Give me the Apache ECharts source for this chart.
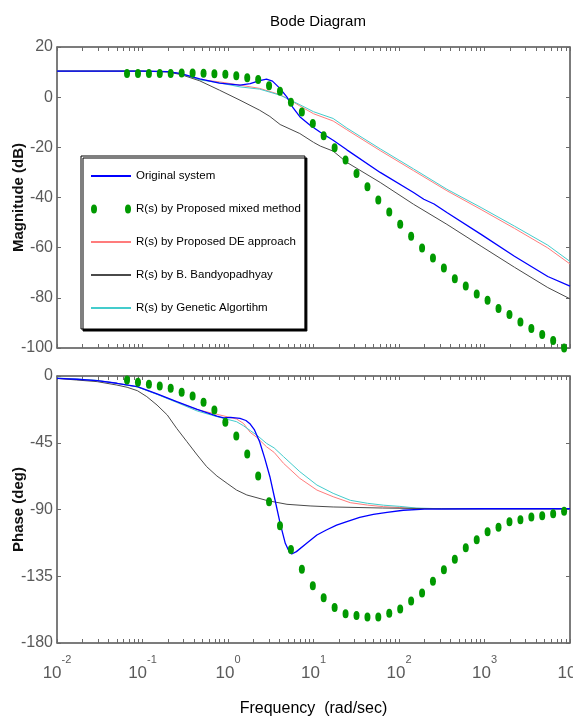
<!DOCTYPE html>
<html>
<head>
<meta charset="utf-8">
<script src="https://cdn.jsdelivr.net/npm/echarts@6/dist/echarts.min.js"></script>
<style>
  html, body { margin: 0; padding: 0; background: #fff; }
  #bode { width: 573px; height: 720px; }
</style>
</head>
<body>
<div id="bode"></div>
<script>
// all frequencies are stored as log10(rad/sec)

// R(s) by proposed mixed method (dots)
var mixedW = [-1.181, -1.053, -0.925, -0.798, -0.670, -0.542, -0.414, -0.286, -0.159, -0.031,
    0.097, 0.225, 0.353, 0.480, 0.608, 0.736, 0.864, 0.992, 1.119, 1.247,
    1.375, 1.503, 1.631, 1.758, 1.886, 2.014, 2.142, 2.270, 2.397, 2.525,
    2.653, 2.781, 2.909, 3.036, 3.164, 3.292, 3.420, 3.548, 3.675, 3.803, 3.931];
var mixedMag = [9.4, 9.4, 9.4, 9.4, 9.4, 9.6, 9.6, 9.5, 9.3, 9.1,
    8.5, 7.7, 7.0, 4.6, 2.4, -2.0, -5.9, -10.5, -15.4, -20.2,
    -25.0, -30.4, -35.7, -41.0, -45.8, -50.7, -55.4, -60.1, -64.1, -68.1,
    -72.4, -75.3, -78.5, -81.0, -84.3, -86.6, -89.6, -92.2, -94.6, -97.0, -100];
var mixedPhase = [-2.7, -4.2, -5.6, -6.7, -8.3, -11.0, -13.5, -17.7, -22.9, -31.2,
    -40.4, -52.6, -67.4, -84.7, -100.9, -116.9, -130.3, -141.4, -149.5, -156.0,
    -160.2, -161.4, -162.5, -162.5, -160.0, -157.1, -151.7, -146.3, -138.4, -130.6,
    -123.6, -115.8, -110.4, -105.0, -102.0, -98.2, -96.9, -95.1, -94.2, -92.8, -91.2];

// Original system
var origMagW = [-2, -1, -0.7, -0.55, -0.33, -0.1, 0.14, 0.26, 0.36, 0.45, 0.52, 0.61, 0.69, 0.76,
    0.84, 0.96, 1.08, 1.23, 1.39, 1.78, 2.17, 2.29, 2.41, 2.56, 2.96, 3.35, 3.74, 4];
var origMag = [10.4, 10.4, 10.2, 9.4, 7.3, 5.6, 4.8, 5.4, 6.5, 7.2, 6.4, 3.4, 0.0, -4.2,
    -7.8, -11.2, -14.0, -17.2, -21.0, -30.0, -38.0, -40.7, -42.6, -46.0, -54.7, -63.4, -71.5, -75.3];
var origPhW = [-2, -1.77, -1.53, -1.3, -1.06, -0.83, -0.6, -0.36, -0.13, -0.05, 0.03, 0.14, 0.21, 0.26,
    0.31, 0.37, 0.43, 0.49, 0.55, 0.61, 0.67, 0.72, 0.745, 0.8, 0.92, 1.04, 1.15, 1.27,
    1.39, 1.54, 1.7, 1.86, 2.05, 2.3, 3, 4];
var origPhase = [-1.6, -2.2, -3.1, -4.9, -7.2, -12.1, -17.3, -22.5, -27.0, -28.3, -27.9, -28.5, -30.0, -32.4,
    -36.4, -44.3, -55.5, -67.9, -83.6, -99.3, -112.8, -119.0, -120.0, -118.4, -112.8, -107.2, -103.8, -100.5,
    -98.2, -95.3, -93.3, -91.9, -90.5, -89.8, -89.5, -89.5];

// R(s) by proposed DE approach
var deMagW = [-2, -1, -0.7, -0.55, -0.33, -0.1, 0.14, 0.37, 0.61, 0.73, 0.84, 1.0, 1.23, 1.39,
    1.78, 2.17, 2.56, 2.96, 3.35, 3.74, 4];
var deMag = [10.4, 10.4, 10.2, 9.4, 7.0, 6.1, 4.8, 3.5, 1.0, -1.2, -3.5, -6.6, -9.5, -13.0,
    -21.3, -29.3, -37.3, -44.8, -52.3, -60.1, -66.5];
var dePhW = [-2, -1.77, -1.53, -1.3, -1.06, -0.83, -0.6, -0.36, -0.13, 0.1, 0.18, 0.26, 0.34, 0.45,
    0.54, 0.65, 0.84, 1.04, 1.23, 1.43, 1.63, 1.82, 2.01, 2.2, 2.5, 4];
var dePhase = [-1.6, -2.2, -3.1, -4.9, -7.3, -12.2, -17.4, -22.7, -25.8, -29.0, -31.9, -38.0, -41.5, -47.7,
    -51.5, -58.9, -69.0, -76.9, -81.4, -85.4, -87.0, -88.1, -88.7, -89.3, -89.5, -89.5];

// R(s) by B. Bandyopadhyay
var bandMagW = [-2, -1, -0.7, -0.55, -0.33, -0.1, 0.14, 0.37, 0.49, 0.61, 0.84, 1.0, 1.08, 1.23,
    1.39, 1.78, 2.17, 2.56, 2.96, 3.35, 3.74, 4];
var bandMag = [10.4, 10.4, 10.0, 9.0, 6.5, 2.8, -1.2, -5.2, -7.7, -10.9, -14.5, -18.0, -19.5, -21.5,
    -26.0, -34.0, -42.7, -50.7, -59.4, -67.8, -75.9, -80.4];
var bandPhW = [-2, -1.77, -1.53, -1.3, -1.18, -1.06, -0.95, -0.83, -0.71, -0.6, -0.48, -0.36, -0.25, -0.13,
    -0.01, 0.1, 0.22, 0.46, 0.69, 0.96, 1.23, 1.81, 2.5, 4];
var bandPhase = [-1.6, -2.7, -3.8, -6.1, -7.6, -9.9, -13.9, -19.6, -26.3, -35.3, -44.3, -53.3, -61.1, -67.4,
    -72.4, -76.9, -80.2, -84.0, -86.5, -87.6, -88.3, -89.0, -89.5, -89.5];

// R(s) by Genetic Algorithm
var gaMagW = [-2, -1, -0.7, -0.55, -0.33, -0.1, 0.14, 0.37, 0.61, 0.73, 0.84, 1.0, 1.23, 1.39,
    1.78, 2.17, 2.56, 2.96, 3.35, 3.74, 4];
var gaMag = [10.4, 10.4, 10.2, 9.3, 6.9, 5.7, 4.1, 3.2, 0.8, -1.2, -3.0, -5.8, -8.5, -12.3,
    -20.6, -28.6, -36.7, -44.0, -51.4, -59.0, -65.5];
var gaPhW = [-2, -1.77, -1.53, -1.3, -1.06, -0.83, -0.6, -0.36, -0.13, 0.1, 0.18, 0.26, 0.34, 0.45,
    0.54, 0.65, 0.84, 1.04, 1.23, 1.43, 1.63, 1.82, 2.01, 2.2, 2.5, 4];
var gaPhase = [-1.4, -2.0, -3.0, -4.9, -7.4, -12.4, -17.8, -23.6, -27.4, -30.8, -33.5, -36.8, -40.0, -45.4,
    -48.5, -54.4, -64.5, -73.5, -79.1, -83.8, -85.8, -87.1, -87.9, -89.0, -89.5, -89.5];

var decades = [-2, -1, 0, 1, 2, 3, 4];
var magTicks = [20, 0, -20, -40, -60, -80, -100];
var phaseTicks = [0, -45, -90, -135, -180];

var names = ['Original system', 'R(s) by Proposed mixed method', 'R(s) by Proposed DE approach',
    'R(s) by B. Bandyopadhyay', 'R(s) by Genetic Algortihm'];

// log-spaced tick marks (1..9 inside each decade)
var logTicks = [];
for (var d = -2; d < 4; d++) {
    for (var k = 1; k < 10; k++) {
        logTicks.push(d + Math.log10(k));
    }
}
logTicks.push(4);

function zip(w, v) {
    return w.map(function (x, i) { return [x, v[i]]; });
}

var font = "'Liberation Sans', Arial, sans-serif";
var axisGray = '#6a6a6a';
var labelGray = '#5a5a5a';

function freqAxis(grid, pos, labels) {
    var ax = {
        type: 'value', gridIndex: grid, position: pos,
        min: -2, max: 4,
        axisLine: { show: true, onZero: false, lineStyle: { color: axisGray, width: 1.5 } },
        axisTick: { show: true, inside: true, length: 4, customValues: logTicks, lineStyle: { color: axisGray } },
        axisLabel: { show: false },
        splitLine: { show: false }
    };
    if (labels) {
        ax.axisLabel = {
            show: true,
            customValues: decades,
            margin: 11,
            formatter: function (v) { return '{b|10}{s|' + v + '}'; },
            rich: {
                b: { fontSize: 17, color: labelGray, fontFamily: font, verticalAlign: 'bottom', lineHeight: 28 },
                s: { fontSize: 11, color: labelGray, fontFamily: font, verticalAlign: 'top', lineHeight: 28 }
            }
        };
        ax.name = 'Frequency  (rad/sec)';
        ax.nameLocation = 'middle';
        ax.nameGap = 58;
        ax.nameMoveOverlap = false;
        ax.nameTextStyle = { fontSize: 16, color: '#000', fontFamily: font };
    }
    return ax;
}

function valAxis(grid, pos, min, max, step, title, ticks) {
    var ax = {
        type: 'value', gridIndex: grid, position: pos,
        min: min, max: max, interval: step,
        axisLine: { show: true, onZero: false, lineStyle: { color: axisGray, width: 1.5 } },
        axisTick: { show: true, inside: true, length: 4, lineStyle: { color: axisGray } },
        axisLabel: { show: false },
        splitLine: { show: false }
    };
    if (title) {
        ax.axisLabel = { show: true, customValues: ticks, margin: 4, fontSize: 16, color: labelGray, fontFamily: font };
        ax.name = title;
        ax.nameLocation = 'middle';
        ax.nameRotate = 90;
        ax.nameGap = 31;
        ax.nameMoveOverlap = false;
        ax.nameTextStyle = { fontSize: 15, fontWeight: 'bold', color: '#111', fontFamily: font };
    }
    return ax;
}

function lineSeries(name, color, width, xi, w, v) {
    return {
        name: name, type: 'line', xAxisIndex: xi, yAxisIndex: xi,
        data: zip(w, v), symbol: 'none', smooth: false,
        lineStyle: { color: color, width: width }, itemStyle: { color: color },
        z: 3
    };
}

var dotPath = 'path://M0,5a5,5 0 1,0 10,0a5,5 0 1,0 -10,0z';
var twoDots = 'path://M0,4.5a3,4.5 0 1,0 6,0a3,4.5 0 1,0 -6,0zM34,4.5a3,4.5 0 1,0 6,0a3,4.5 0 1,0 -6,0z';

var colors = {
    orig: '#0000ff',
    mixed: '#009900',
    de: '#ff7c7c',
    band: '#4a4a4a',
    ga: '#44cccc'
};

var chart = echarts.init(document.getElementById('bode'));

var gridBase = { left: 57, width: 513, show: true, borderColor: axisGray, borderWidth: 1, backgroundColor: '#fff', outerBoundsMode: 'none', containLabel: false };

var option = {
    animation: false,
    backgroundColor: '#fff',
    textStyle: { fontFamily: font },
    title: {
        text: 'Bode Diagram',
        left: 313, top: 9, textAlign: 'center',
        textStyle: { fontSize: 15, fontWeight: 'normal', color: '#000', fontFamily: font }
    },
    grid: [
        Object.assign({}, gridBase, { top: 47, height: 301 }),
        Object.assign({}, gridBase, { top: 376, height: 267 })
    ],
    xAxis: [
        freqAxis(0, 'bottom', false),
        freqAxis(1, 'bottom', true),
        freqAxis(0, 'top', false),
        freqAxis(1, 'top', false)
    ],
    yAxis: [
        valAxis(0, 'left', -100, 20, 20, 'Magnitude (dB)', magTicks),
        valAxis(1, 'left', -180, 0, 45, 'Phase (deg)', phaseTicks),
        valAxis(0, 'right', -100, 20, 20, null, null),
        valAxis(1, 'right', -180, 0, 45, null, null)
    ],
    legend: {
        orient: 'vertical',
        left: 81, top: 156,
        padding: [14, 4, 15, 9],
        itemGap: 21,
        itemWidth: 40,
        itemHeight: 9,
        backgroundColor: '#fff',
        borderColor: '#000',
        borderWidth: 1,
        shadowColor: '#000',
        shadowBlur: 0,
        shadowOffsetX: 2,
        shadowOffsetY: 2,
        textStyle: { fontSize: 11.5, color: '#000', fontFamily: font },
        data: [
            { name: names[0], itemStyle: { opacity: 0 } },
            { name: names[1], icon: twoDots },
            { name: names[2], itemStyle: { opacity: 0 } },
            { name: names[3], itemStyle: { opacity: 0 } },
            { name: names[4], itemStyle: { opacity: 0 } }
        ]
    },
    series: [
        lineSeries(names[2], colors.de, 1, 0, deMagW, deMag),
        lineSeries(names[4], colors.ga, 1, 0, gaMagW, gaMag),
        lineSeries(names[3], colors.band, 1, 0, bandMagW, bandMag),
        lineSeries(names[0], colors.orig, 1.3, 0, origMagW, origMag),
        lineSeries(names[2], colors.de, 1, 1, dePhW, dePhase),
        lineSeries(names[4], colors.ga, 1, 1, gaPhW, gaPhase),
        lineSeries(names[3], colors.band, 1, 1, bandPhW, bandPhase),
        lineSeries(names[0], colors.orig, 1.3, 1, origPhW, origPhase),
        {
            name: names[1], type: 'scatter', xAxisIndex: 0, yAxisIndex: 0,
            data: zip(mixedW, mixedMag), symbol: dotPath, symbolSize: [6, 9],
            itemStyle: { color: colors.mixed, opacity: 1 }, clip: false, z: 5
        },
        {
            name: names[1], type: 'scatter', xAxisIndex: 1, yAxisIndex: 1,
            data: zip(mixedW, mixedPhase), symbol: dotPath, symbolSize: [6, 9],
            itemStyle: { color: colors.mixed, opacity: 1 }, clip: false, z: 5
        }
    ]
};

chart.setOption(option);
</script>
</body>
</html>
